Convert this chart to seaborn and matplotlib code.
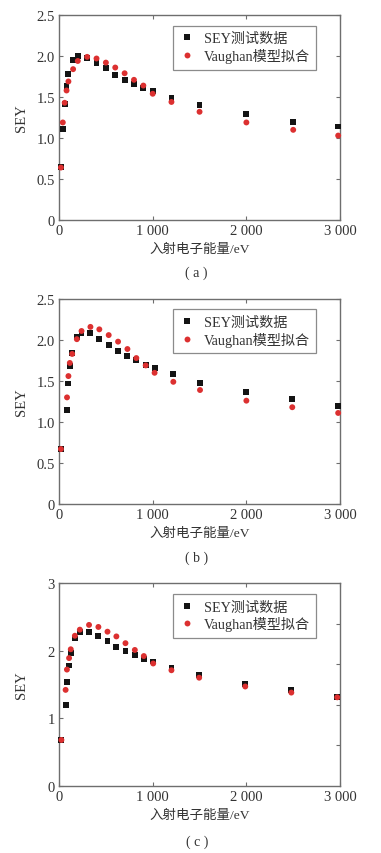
import matplotlib
matplotlib.use("Agg")
import matplotlib.pyplot as plt
import seaborn as sns
import pandas as pd

# ---- data ----
energy_a = [20, 40, 60, 80, 100, 150, 200, 300, 400, 500, 600, 700, 800, 900, 1000, 1200, 1500, 2000, 2500, 2980]
sey_a = [0.65, 1.11, 1.42, 1.63, 1.78, 1.95, 2.00, 1.98, 1.92, 1.85, 1.77, 1.71, 1.66, 1.61, 1.57, 1.49, 1.40, 1.29, 1.20, 1.14]
fit_a = [0.64, 1.19, 1.43, 1.58, 1.69, 1.84, 1.94, 1.99, 1.97, 1.92, 1.86, 1.79, 1.71, 1.64, 1.54, 1.44, 1.32, 1.19, 1.10, 1.03]

energy_b = [20, 85, 100, 115, 140, 190, 240, 335, 430, 530, 630, 730, 825, 925, 1020, 1220, 1505, 2000, 2490, 2980]
sey_b = [0.67, 1.15, 1.47, 1.68, 1.84, 2.04, 2.09, 2.08, 2.01, 1.94, 1.87, 1.81, 1.76, 1.70, 1.66, 1.58, 1.48, 1.37, 1.28, 1.20]
fit_b = [0.67, 1.30, 1.56, 1.72, 1.83, 2.01, 2.11, 2.16, 2.13, 2.06, 1.98, 1.89, 1.78, 1.69, 1.60, 1.49, 1.39, 1.26, 1.18, 1.11]

energy_c = [25, 70, 84, 107, 125, 169, 222, 320, 420, 517, 612, 709, 809, 905, 1005, 1200, 1496, 1988, 2480, 2970]
sey_c = [0.68, 1.19, 1.53, 1.78, 1.96, 2.18, 2.27, 2.27, 2.21, 2.14, 2.06, 1.99, 1.94, 1.88, 1.84, 1.75, 1.64, 1.51, 1.42, 1.32]
fit_c = [0.68, 1.42, 1.72, 1.89, 2.02, 2.22, 2.31, 2.38, 2.35, 2.28, 2.21, 2.11, 2.01, 1.92, 1.81, 1.71, 1.60, 1.47, 1.38, 1.31]

x_ticks = [0, 1000, 2000, 3000]
x_ticklabels = ["0", "1 000", "2 000", "3 000"]
series_labels = ["SEY测试数据", "Vaughan模型拟合"]
captions = ["( a )", "( b )", "( c )"]
xlabel = "入射电子能量/eV"
ylabel = "SEY"

sns.set_style("ticks")
plt.rcParams["font.family"] = ["Liberation Serif", "Noto Sans CJK SC"]
plt.rcParams["axes.edgecolor"] = "#6e6e6e"
plt.rcParams["axes.linewidth"] = 1.0

fig = plt.figure(figsize=(3.81, 8.54), dpi=100)

panels = [
    dict(e=energy_a, s=sey_a, f=fit_a, rect=[0.155, 0.7412, 0.7375, 0.2400],
         ylim=(0, 2.5), yt=[0, 0.5, 1.0, 1.5, 2.0, 2.5], ytl=["0", "0.5", "1.0", "1.5", "2.0", "2.5"],
         leg=(0.93, 0.968), cap_y=1 - 273 / 854),
    dict(e=energy_b, s=sey_b, f=fit_b, rect=[0.155, 0.4087, 0.7375, 0.2400],
         ylim=(0, 2.5), yt=[0, 0.5, 1.0, 1.5, 2.0, 2.5], ytl=["0", "0.5", "1.0", "1.5", "2.0", "2.5"],
         leg=(0.93, 0.970), cap_y=1 - 558 / 854),
    dict(e=energy_c, s=sey_c, f=fit_c, rect=[0.155, 0.0785, 0.7375, 0.2377],
         ylim=(0, 3), yt=[0, 1, 2, 3], ytl=["0", "1", "2", "3"],
         leg=(0.93, 0.966), cap_y=1 - 842 / 854),
]

for i, p in enumerate(panels):
    ax = fig.add_axes(p["rect"])
    df = pd.DataFrame({"E": p["e"] + p["e"], "SEY": p["s"] + p["f"],
                       "kind": [series_labels[0]] * len(p["e"]) + [series_labels[1]] * len(p["e"])})
    sns.scatterplot(data=df, x="E", y="SEY", hue="kind", style="kind",
                    hue_order=series_labels, style_order=series_labels,
                    palette={series_labels[0]: "#141414", series_labels[1]: "#dc3030"},
                    markers={series_labels[0]: "s", series_labels[1]: "o"},
                    s=18, linewidth=0, ax=ax, clip_on=False, zorder=3)
    ax.set_xlim(0, 3000)
    ax.set_ylim(*p["ylim"])
    ax.set_xticks(x_ticks)
    ax.set_xticklabels(x_ticklabels)
    ax.set_yticks(p["yt"])
    ax.set_yticklabels(p["ytl"])
    ax.tick_params(direction="in", length=3, width=0.8, color="#6e6e6e",
                   labelsize=10.5, labelcolor="#333333", top=True, right=(i < 2), pad=3)
    ax.set_xlabel(xlabel, fontsize=9.7, color="#333333", labelpad=4)
    ax.set_ylabel(ylabel, fontsize=10.5, color="#333333")
    ax.yaxis.set_label_coords(-0.11, 0.5)
    if i == 2:
        ax2 = ax.twinx()
        ax2.set_ylim(0, 2.5)
        ax2.set_yticks([0.5, 1.0, 1.5, 2.0])
        ax2.set_yticklabels([])
        ax2.tick_params(direction="in", length=3, width=0.8, color="#6e6e6e")
        for sp in ax2.spines.values():
            sp.set_visible(False)
    h, l = ax.get_legend_handles_labels()
    leg = ax.legend(h, l, loc="upper right", bbox_to_anchor=p["leg"], frameon=True,
                    fancybox=False, edgecolor="#6e6e6e", fontsize=10.2, handletextpad=0.6,
                    borderpad=0.45, labelspacing=0.2, markerscale=1.0, handlelength=1.1,
                    borderaxespad=0.3)
    leg.get_frame().set_linewidth(0.9)
    for t in leg.get_texts():
        t.set_color("#333333")
    fig.text(p["rect"][0] + p["rect"][2] * 0.49, p["cap_y"], captions[i], ha="center", va="center",
             fontsize=10, color="#333333")

fig.savefig("out.png", dpi=100)
